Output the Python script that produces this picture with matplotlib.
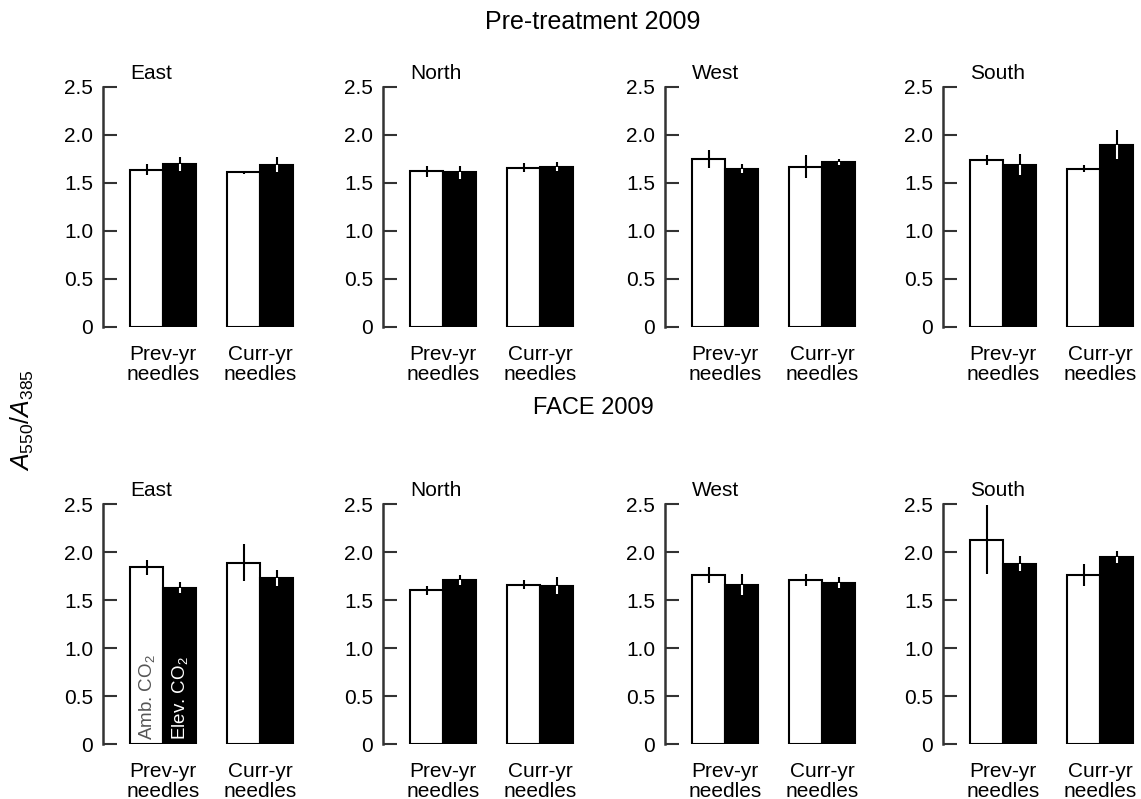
import matplotlib
matplotlib.use('Agg')
import matplotlib.pyplot as plt
import numpy as np

plt.rcParams['font.family'] = ['Liberation Sans', 'DejaVu Sans']
plt.rcParams['mathtext.fontset'] = 'custom'
plt.rcParams['mathtext.it'] = 'Liberation Sans:italic'
plt.rcParams['mathtext.rm'] = 'Liberation Sans'

# data
sites = ['East', 'North', 'West', 'South']
groups = ['Prev-yr\nneedles', 'Curr-yr\nneedles']
row_titles = ['Pre-treatment 2009', 'FACE 2009']

# [site][group]  ambient / elevated means and errors
pre_amb = [[1.64, 1.61], [1.62, 1.66], [1.75, 1.67], [1.74, 1.65]]
pre_amb_err = [[0.06, 0.02], [0.055, 0.045], [0.09, 0.12], [0.05, 0.04]]
pre_elev = [[1.70, 1.69], [1.61, 1.67], [1.65, 1.72], [1.69, 1.90]]
pre_elev_err = [[0.075, 0.08], [0.065, 0.05], [0.05, 0.035], [0.11, 0.15]]

face_amb = [[1.84, 1.89], [1.60, 1.66], [1.76, 1.71], [2.13, 1.76]]
face_amb_err = [[0.075, 0.19], [0.045, 0.045], [0.085, 0.065], [0.36, 0.11]]
face_elev = [[1.63, 1.73], [1.71, 1.65], [1.66, 1.68], [1.88, 1.95]]
face_elev_err = [[0.06, 0.08], [0.055, 0.085], [0.11, 0.055], [0.08, 0.06]]

rows = [(pre_amb, pre_amb_err, pre_elev, pre_elev_err),
        (face_amb, face_amb_err, face_elev, face_elev_err)]

fig = plt.figure(figsize=(11.41, 7.99), dpi=100)

lefts = [103, 383, 665, 943]
bottoms = [327, 744]
W, H = 1141.0, 799.0
bw = 0.34
x = np.arange(len(groups))
fs = 15

for r, (amb, amb_e, elev, elev_e) in enumerate(rows):
    for s, site in enumerate(sites):
        ax = fig.add_axes([lefts[s] / W, (H - bottoms[r]) / H, 192 / W, 240 / H])
        xa = x - bw / 2
        xe = x + bw / 2
        ax.bar(xa, amb[s], bw, color='white', edgecolor='black', linewidth=1.5, zorder=2)
        ax.bar(xe, elev[s], bw, color='black', edgecolor='black', linewidth=1.5, zorder=2)
        # error bars: black outside, white inside the black bar
        ax.errorbar(xa, amb[s], yerr=amb_e[s], fmt='none', ecolor='black', elinewidth=1.5, capsize=0, zorder=3)
        ax.errorbar(xe, elev[s], yerr=elev_e[s], fmt='none', ecolor='black', elinewidth=1.5, capsize=0, zorder=3)
        lo = np.array(elev[s]) - np.array(elev_e[s])
        ax.vlines(xe, lo, elev[s], colors='white', linewidth=1.5, zorder=4)

        ax.set_xlim(-0.62, 1.36)
        ax.set_ylim(0, 2.5)
        ax.set_yticks([0, 0.5, 1.0, 1.5, 2.0, 2.5])
        ax.set_yticklabels(['0', '0.5', '1.0', '1.5', '2.0', '2.5'])
        ax.set_xticks(x)
        ax.set_xticklabels(groups, linespacing=1.05)
        ax.tick_params(axis='x', length=0, labelsize=fs, pad=13)
        ax.tick_params(axis='y', direction='in', length=10, width=1.5,
                       color='#333333', labelsize=fs, pad=7)
        for sp in ['top', 'right', 'bottom']:
            ax.spines[sp].set_visible(False)
        ax.spines['left'].set_linewidth(1.8)
        ax.spines['left'].set_color('#333333')
        ax.text(0.14, 1.055, site, transform=ax.transAxes, fontsize=fs,
                ha='left', va='center', clip_on=False)

        if r == 1 and s == 0:
            ax.text(xa[0], 0.045, r'Amb. CO$_2$', rotation=90, ha='center', va='bottom',
                    fontsize=13.5, color='#555555', zorder=5)
            ax.text(xe[0], 0.045, r'Elev. CO$_2$', rotation=90, ha='center', va='bottom',
                    fontsize=13.5, color='white', zorder=5)

fig.text(593 / W, 1 - 22 / H, row_titles[0], ha='center', va='center', fontsize=18)
fig.text(593 / W, 1 - 408 / H, row_titles[1], ha='center', va='center', fontsize=17)
fig.text(22 / W, 1 - 420 / H, r'$A_{\mathit{550}}/A_{\mathit{385}}$', rotation=90,
         ha='center', va='center', fontsize=18)

fig.savefig('out.png', dpi=100)
